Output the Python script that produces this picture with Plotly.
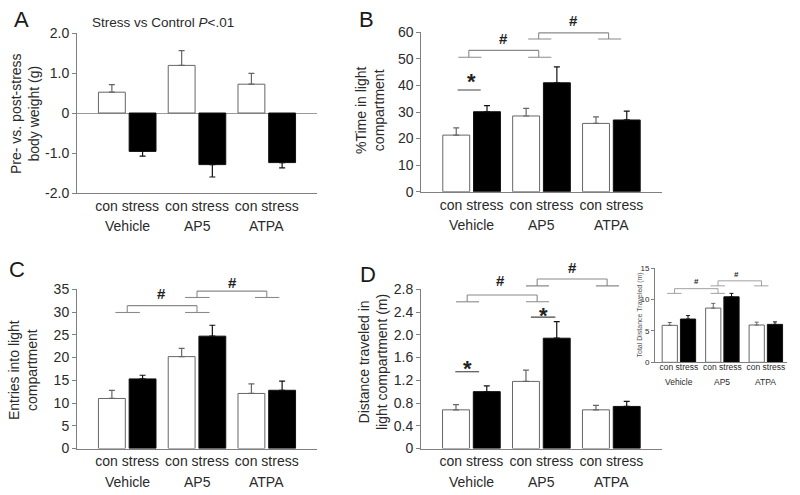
import plotly.graph_objects as go

# ---------------- data ----------------
groups = ["Vehicle", "AP5", "ATPA"]
cond_label = "con stress"

# Panel A: pre- vs post-stress body weight (g)
a_con = [0.52, 1.19, 0.72]
a_con_sem = [0.19, 0.37, 0.27]
a_stress = [-0.96, -1.29, -1.24]
a_stress_sem = [0.12, 0.31, 0.13]
a_ticks = [-2, -1, 0, 1, 2]
a_ticktext = ["-2.0", "-1.0", "0", "1.0", "2.0"]

# Panel B: % time in light compartment
b_con = [21.3, 28.5, 25.7]
b_con_sem = [2.7, 2.9, 2.5]
b_stress = [30.1, 41.0, 27.0]
b_stress_sem = [2.3, 6.0, 3.3]
b_ticks = [0, 10, 20, 30, 40, 50, 60]
b_ticktext = ["0", "10", "20", "30", "40", "50", "60"]

# Panel C: entries into light compartment
c_con = [11.0, 20.2, 12.1]
c_con_sem = [1.8, 1.8, 2.1]
c_stress = [15.3, 24.7, 12.8]
c_stress_sem = [0.8, 2.4, 2.0]
c_ticks = [0, 5, 10, 15, 20, 25, 30, 35]
c_ticktext = ["0", "5", "10", "15", "20", "25", "30", "35"]

# Panel D: distance traveled in light compartment (m)
d_con = [0.68, 1.18, 0.68]
d_con_sem = [0.09, 0.20, 0.08]
d_stress = [1.00, 1.94, 0.74]
d_stress_sem = [0.10, 0.29, 0.09]
d_ticks = [0, 0.4, 0.8, 1.2, 1.6, 2.0, 2.4, 2.8]
d_ticktext = ["0", "0.4", "0.8", "1.2", "1.6", "2.0", "2.4", "2.8"]

# Inset: total distance traveled (m)
e_con = [5.9, 8.65, 5.95]
e_con_sem = [0.45, 0.75, 0.45]
e_stress = [6.9, 10.45, 6.05]
e_stress_sem = [0.55, 0.55, 0.4]
e_ticks = [0, 5, 10, 15]
e_ticktext = ["0", "5", "10", "15"]

# significance brackets: (group a, group b, foot level, top level)
b_brackets = [(0, 1, 50.6, 53.2), (1, 2, 57.5, 59.8)]
b_hash = [(0.46, 57.8), (1.46, 64.6)]
c_brackets = [(0, 1, 29.9, 31.4), (1, 2, 33.2, 34.6)]
c_hash = [(0.49, 34.0), (1.51, 36.6)]
d_brackets = [(0, 1, 2.58, 2.70), (1, 2, 2.86, 2.98)]
d_hash = [(0.42, 2.95), (1.45, 3.19)]
e_brackets = [(0, 1, 11.0, 11.75), (1, 2, 12.2, 13.0)]
e_hash = [(0.41, 12.9), (1.32, 14.0)]
# star comparisons: (group, line level, star level)
b_stars = [(0, 38.3, 36.1)]
d_stars = [(0, 1.35, 1.155), (1, 2.31, 2.09)]

FONT = "Liberation Sans, Arial, sans-serif"
TXT = "#2a2a2a"
AXC = "#808080"

fig = go.Figure()

W, H = 800, 495


def px_dom_x(a, b):
    return [a / W, b / W]


def px_dom_y(top, bottom):
    return [1 - bottom / H, 1 - top / H]


panels = {
    "A": dict(x="x", y="y", con=a_con, cs=a_con_sem, st=a_stress, ss=a_stress_sem,
              rng=[-2, 2], ticks=a_ticks, tt=a_ticktext,
              dx=px_dom_x(77, 317), dy=px_dom_y(33, 193), inset=False),
    "B": dict(x="x2", y="y2", con=b_con, cs=b_con_sem, st=b_stress, ss=b_stress_sem,
              rng=[0, 60], ticks=b_ticks, tt=b_ticktext,
              dx=px_dom_x(421.3, 661.7), dy=px_dom_y(32.3, 191.7), inset=False),
    "C": dict(x="x3", y="y3", con=c_con, cs=c_con_sem, st=c_stress, ss=c_stress_sem,
              rng=[0, 35], ticks=c_ticks, tt=c_ticktext,
              dx=px_dom_x(77, 317), dy=px_dom_y(289.3, 448.5), inset=False),
    "D": dict(x="x4", y="y4", con=d_con, cs=d_con_sem, st=d_stress, ss=d_stress_sem,
              rng=[0, 2.8], ticks=d_ticks, tt=d_ticktext,
              dx=px_dom_x(421, 661.7), dy=px_dom_y(289.3, 448.5), inset=False),
    "E": dict(x="x5", y="y5", con=e_con, cs=e_con_sem, st=e_stress, ss=e_stress_sem,
              rng=[0, 15], ticks=e_ticks, tt=e_ticktext,
              dx=px_dom_x(655, 786.7), dy=px_dom_y(268.3, 362.3), inset=True),
}

layout_axes = {}
annotations = []
shapes = []

for key, p in panels.items():
    inset = p["inset"]
    off = 0.21 if inset else 0.22
    bw = 0.35 if inset else 0.385
    xs_con = [i - off for i in range(len(groups))]
    xs_st = [i + off for i in range(len(groups))]
    for xs, vals, sems, fill, lc in ((xs_con, p["con"], p["cs"], "white", "#666666"),
                                     (xs_st, p["st"], p["ss"], "black", "#111111")):
        plus = [s if v >= 0 else 0 for v, s in zip(vals, sems)]
        minus = [s if v < 0 else 0 for v, s in zip(vals, sems)]
        fig.add_trace(go.Bar(
            x=xs, y=vals, width=bw, xaxis=p["x"], yaxis=p["y"],
            marker=dict(color=fill, line=dict(color=lc, width=1)),
            error_y=dict(type="data", symmetric=False, array=plus, arrayminus=minus,
                         color=lc, thickness=1 if inset else 1.2, width=2 if inset else 3),
            showlegend=False, hoverinfo="skip"))

    xname = "xaxis" if p["x"] == "x" else "xaxis" + p["x"][1:]
    yname = "yaxis" if p["y"] == "y" else "yaxis" + p["y"][1:]
    fs = 8.5 if inset else 14
    xr = [-0.55, 2.48] if inset else [-0.72, 2.72]
    layout_axes[xname] = dict(
        domain=p["dx"], anchor=p["y"], range=xr, type="linear", automargin=False,
        tickvals=list(range(len(groups))), ticktext=[cond_label] * len(groups),
        ticklabelstandoff=-4 if inset else 0,
        showline=True, linecolor=AXC, linewidth=1, ticks="", showgrid=False,
        zeroline=False, tickfont=dict(family=FONT, size=fs, color=TXT),
        fixedrange=True)
    layout_axes[yname] = dict(
        domain=p["dy"], anchor=p["x"], range=p["rng"], automargin=False,
        tickvals=p["ticks"], ticktext=p["tt"],
        showline=True, linecolor=AXC, linewidth=1, ticks="outside",
        ticklen=3 if inset else 4, tickcolor=AXC, showgrid=False,
        zeroline=(key == "A"), zerolinecolor="#9a9a9a", zerolinewidth=1,
        tickfont=dict(family=FONT, size=8 if inset else 14, color=TXT),
        fixedrange=True)

    # group labels under "con stress"
    for i, g in enumerate(groups):
        annotations.append(dict(
            x=i, y=0, xref=p["x"], yref=p["y"] + " domain",
            yshift=-19.4 if inset else -33.4, yanchor="middle", xanchor="center",
            text=g, showarrow=False, font=dict(family=FONT, size=fs, color=TXT)))


def yfrac(v, rng):
    return (v - rng[0]) / (rng[1] - rng[0])


def line(xref, yref, x0, y0, x1, y1, color, width):
    shapes.append(dict(type="line", xref=xref, yref=yref, x0=x0, x1=x1, y0=y0, y1=y1,
                       line=dict(color=color, width=width), layer="above"))


bracket_geom = {"B": (-0.04, -0.19, 0.14), "C": (0.0, -0.17, 0.18),
                "D": (-0.06, -0.22, 0.11), "E": (-0.1, -0.27, 0.06)}
bracket_data = {"B": (b_brackets, b_hash), "C": (c_brackets, c_hash),
                "D": (d_brackets, d_hash), "E": (e_brackets, e_hash)}

for key, (brs, hashes) in bracket_data.items():
    p = panels[key]
    vx, s0, s1 = bracket_geom[key]
    xr, yr = p["x"], p["y"] + " domain"
    lw = 0.8 if p["inset"] else 1.1
    col = "#8a8a8a"
    for a, b, low, high in brs:
        yl, yh = yfrac(low, p["rng"]), yfrac(high, p["rng"])
        line(xr, yr, a + vx, yh, b + vx, yh, col, lw)
        line(xr, yr, a + vx, yl, a + vx, yh, col, lw)
        line(xr, yr, b + vx, yl, b + vx, yh, col, lw)
        line(xr, yr, a + s0, yl, a + s1, yl, col, lw)
        line(xr, yr, b + s0, yl, b + s1, yl, col, lw)
    for hx, hy in hashes:
        annotations.append(dict(
            x=hx, y=yfrac(hy, p["rng"]), xref=xr, yref=yr, text="<b>#</b>",
            xanchor="center", yanchor="middle", showarrow=False,
            font=dict(family=FONT, size=8 if p["inset"] else 15, color="#222")))

star_geom = {"B": [(-0.2, 0.13, 0.0)], "D": [(-0.23, 0.11, -0.06), (-0.15, 0.2, 0.03)]}
for key, stars in (("B", b_stars), ("D", d_stars)):
    p = panels[key]
    xr, yr = p["x"], p["y"] + " domain"
    for (g, lev, slev), (l0, l1, sx) in zip(stars, star_geom[key]):
        line(xr, yr, g + l0, yfrac(lev, p["rng"]), g + l1, yfrac(lev, p["rng"]), "#444", 1.1)
        annotations.append(dict(
            x=g + sx, y=yfrac(slev, p["rng"]), xref=xr, yref=yr, text="<b>*</b>",
            xanchor="center", yanchor="bottom", showarrow=False,
            font=dict(family=FONT, size=22, color="#222")))

# y-axis titles
ytitles = [
    ("Pre- vs. post-stress<br>body weight (g)", 25, 114, 14),
    ("%Time in light<br>compartment", 370, 110, 14),
    ("Entries into light<br>compartment", 23, 370, 14),
    ("Distance traveled in<br>light compartment (m)", 373, 362, 14),
]
for t, xp, yp, sz in ytitles:
    annotations.append(dict(x=xp / W, y=1 - yp / H, xref="paper", yref="paper", text=t,
                            textangle=-90, showarrow=False, xanchor="center", yanchor="middle",
                            font=dict(family=FONT, size=sz, color=TXT)))
annotations.append(dict(x=639.5 / W, y=1 - 315 / H, xref="paper", yref="paper",
                        text="Total Distance Traveled (m)", textangle=-90, showarrow=False,
                        xanchor="center", yanchor="middle",
                        font=dict(family=FONT, size=7, color="#555")))

# panel letters
for letter, xp, yp in (("A", 21.5, 19), ("B", 366, 19), ("C", 17, 269), ("D", 368, 274)):
    annotations.append(dict(x=xp / W, y=1 - yp / H, xref="paper", yref="paper", text=letter,
                            showarrow=False, xanchor="center", yanchor="middle",
                            font=dict(family=FONT, size=22, color="#1a1a1a")))

annotations.append(dict(x=90 / W, y=1 - 23 / H, xref="paper", yref="paper",
                        text="Stress vs Control <i>P</i>&lt;.01", showarrow=False,
                        xanchor="left", yanchor="middle",
                        font=dict(family=FONT, size=13.5, color=TXT)))

fig.update_layout(
    width=W, height=H, margin=dict(l=0, r=0, t=0, b=0, autoexpand=False),
    paper_bgcolor="white", plot_bgcolor="rgba(0,0,0,0)",
    barmode="overlay", showlegend=False,
    annotations=annotations, shapes=shapes,
    font=dict(family=FONT, color=TXT),
    **layout_axes)

fig.write_html("out.html", config={"displayModeBar": False},
               post_script="document.body.style.margin='0px';document.body.style.overflow='hidden';")
